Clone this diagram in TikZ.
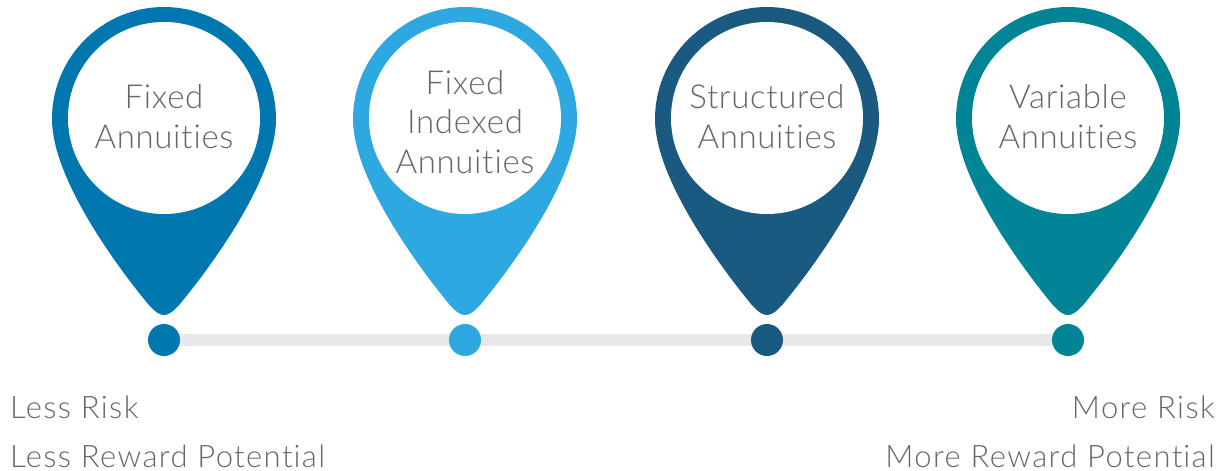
\documentclass[tikz,border=0pt]{standalone}
\usepackage{fontspec}
\setmainfont{Lato Light}[Ligatures={NoCommon,NoRare,NoDiscretionary},Contextuals=NoAlternate]
\usetikzlibrary{backgrounds}
\definecolor{pinA}{HTML}{0077AE}
\definecolor{pinB}{HTML}{2EA8E0}
\definecolor{pinC}{HTML}{1B5A80}
\definecolor{pinD}{HTML}{008496}
\definecolor{txt}{HTML}{666666}
\definecolor{track}{HTML}{E8E8E8}
\newcommand{\tbreak}{t\kern1pt i}
\tikzset{
  pinlabel/.style={text=txt, font=\fontsize{33}{39.5}\selectfont\addfontfeature{LetterSpace=2}, align=center, inner sep=0pt, anchor=base},
  sidelabel/.style={text=txt, font=\fontsize{31}{36}\selectfont\addfontfeature{LetterSpace=4.5}, inner sep=0pt},
  dotnode/.style={circle, inner sep=0pt, minimum size=32pt},
  hole/.style={fill=white},
}
\newcommand{\pinshape}[2]{%
  \begin{scope}[shift={(#1,0)}]
    \fill[#2] (-112,119) .. controls (-112,180) and (-44,270) .. (-16,304)
      .. controls (-8,313) and (-4,315) .. (0,315)
      .. controls (4,315) and (8,313) .. (16,304)
      .. controls (44,270) and (112,180) .. (112,119)
      arc[start angle=0, end angle=-180, radius=112] -- cycle;
    \fill[hole] (0,118) circle[radius=96];
  \end{scope}}
\begin{document}
\begin{tikzpicture}[x=1pt,y=-1pt]
\useasboundingbox (0,0) rectangle (1226,471);
\pinshape{164}{pinA}
\pinshape{465}{pinB}
\pinshape{767}{pinC}
\pinshape{1068}{pinD}
\node[pinlabel] (t1) at (164,148) {Fixed\\Annui\tbreak es};
\node[pinlabel] (t2) at (465,173) {Fixed\\Indexed\\Annui\tbreak es};
\node[pinlabel] (t3) at (767,148) {Structured\\Annui\tbreak es};
\node[pinlabel] (t4) at (1068,148) {Variable\\Annui\tbreak es};
\node[dotnode, fill=pinA] (d1) at (164,340) {};
\node[dotnode, fill=pinB] (d2) at (465,340) {};
\node[dotnode, fill=pinC] (d3) at (767,340) {};
\node[dotnode, fill=pinD] (d4) at (1068,340) {};
\begin{scope}[on background layer]
  \draw[track, line width=12pt] (d1.center) -- (d2.center) -- (d3.center) -- (d4.center);
\end{scope}
\node[sidelabel, anchor=base west] (l1) at (10,418) {Less Risk};
\node[sidelabel, anchor=base west] (l2) at (10,467) {Less Reward Poten\tbreak al};
\node[sidelabel, anchor=base east] (r1) at (1215,418) {More Risk};
\node[sidelabel, anchor=base east] (r2) at (1215,467) {More Reward Poten\tbreak al};
\end{tikzpicture}
\end{document}
